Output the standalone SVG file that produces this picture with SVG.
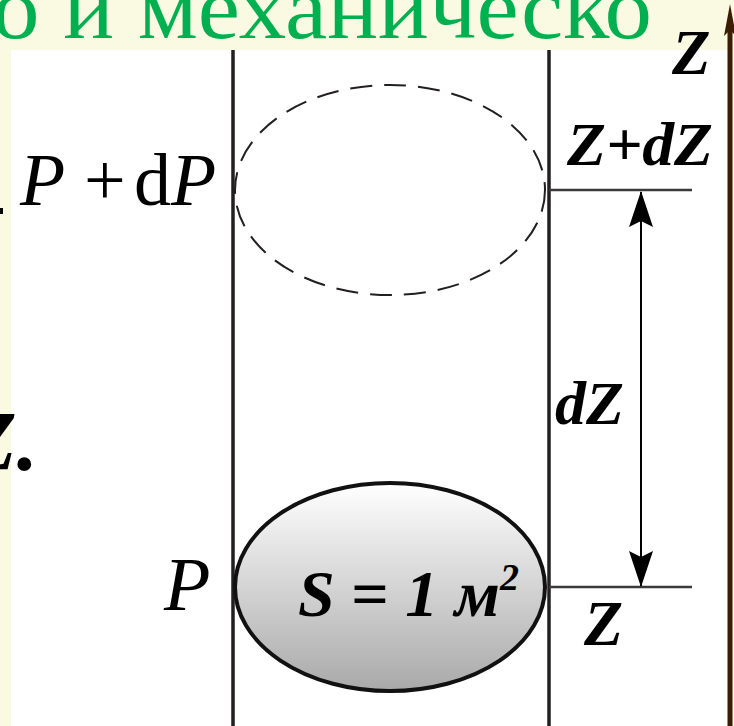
<svg xmlns="http://www.w3.org/2000/svg" width="734" height="726" viewBox="0 0 734 726">
<defs>
<style>
.lbl{font-family:"Liberation Serif","Times New Roman",serif;fill:#000}
.bi{font-weight:bold;font-style:italic}
.it{font-style:italic}
.wall{stroke:#231f20;stroke-width:3.5;fill:none}
.tick{stroke:#3a3a3a;stroke-width:2.5;fill:none}
</style>
<linearGradient id="gr" x1="0" y1="0" x2="0" y2="1">
<stop offset="0" stop-color="#ffffff"/>
<stop offset="1" stop-color="#a9a9a9"/>
</linearGradient>
<marker id="ah" viewBox="0 0 36 24" refX="35" refY="12" markerWidth="36" markerHeight="24" markerUnits="userSpaceOnUse" orient="auto-start-reverse">
<path d="M36 12 L0 0 L6 12 L0 24 Z" fill="#000"/>
</marker>
</defs>
<rect x="0" y="0" width="734" height="726" fill="#FAFAE2"/>
<rect x="11" y="50" width="720" height="676" fill="#ffffff"/>
<text x="-8" y="38" font-family="'Liberation Serif','Times New Roman',serif" font-size="88" fill="#00B050" textLength="660" lengthAdjust="spacingAndGlyphs">о и механическо</text>
<text class="lbl bi" x="38" y="470" font-size="85" text-anchor="end">Z.</text>
<rect x="0" y="208" width="3" height="6" fill="#000"/>
<g id="axis">
<line x1="730" y1="30" x2="730" y2="726" stroke="#3b1d05" stroke-width="5"/>
<path d="M730 4 L736 36 L730 30 L724 36 Z" fill="#3b1d05"/>
<text class="lbl bi" x="672" y="74" font-size="63">Z</text>
</g>
<g id="cylinder">
<line class="wall" x1="233" y1="50" x2="233" y2="726"/>
<line class="wall" x1="549" y1="50" x2="549" y2="726"/>
</g>
<g id="upper">
<ellipse cx="390" cy="190" rx="155" ry="105" fill="none" stroke="#231f20" stroke-width="2" stroke-dasharray="22 12"/>
<text class="lbl" y="205" font-size="74"><tspan x="20" font-style="italic">P</tspan><tspan x="84">+</tspan><tspan x="134">d</tspan><tspan x="171" font-style="italic">P</tspan></text>
<text class="lbl bi" x="567" y="165" font-size="62" textLength="146" lengthAdjust="spacingAndGlyphs">Z+dZ</text>
</g>
<g id="lower">
<ellipse cx="390" cy="587" rx="155" ry="104" fill="url(#gr)" stroke="#111" stroke-width="4"/>
<text class="lbl bi" x="298" y="616" font-size="66">S <tspan font-weight="bold" font-style="normal">=</tspan> 1 м<tspan font-size="38" dy="-26">2</tspan></text>
<text class="lbl it" x="164" y="610" font-size="76">P</text>
<text class="lbl bi" x="584" y="645" font-size="64">Z</text>
</g>
<g id="connectors">
<line class="tick" x1="549" y1="190" x2="692" y2="190"/>
<line class="tick" x1="549" y1="587" x2="692" y2="587"/>
<line x1="641" y1="192" x2="641" y2="586" stroke="#000" stroke-width="2" marker-start="url(#ah)" marker-end="url(#ah)"/>
<text class="lbl bi" x="555" y="424" font-size="62">dZ</text>
</g>
</svg>
